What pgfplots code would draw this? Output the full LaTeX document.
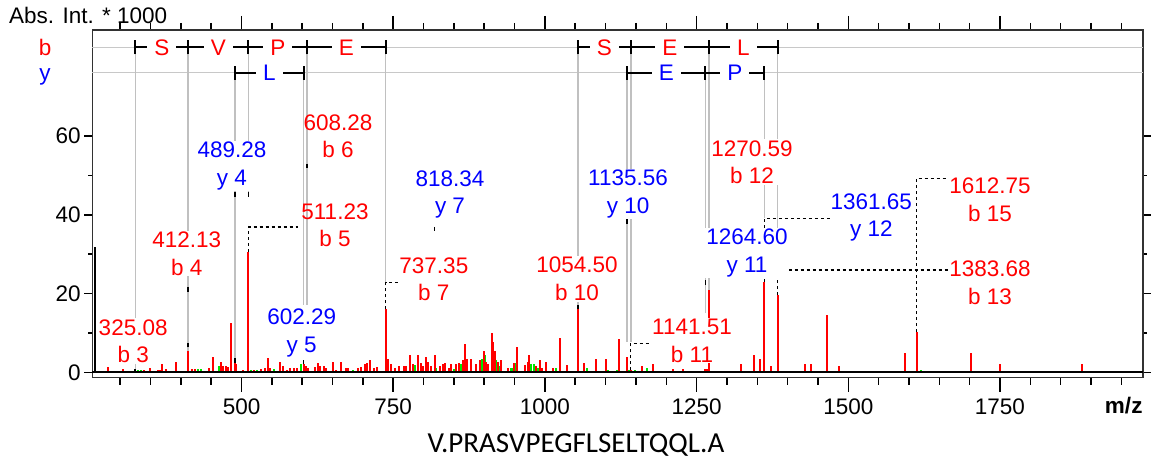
\documentclass[border=0pt]{standalone}
\usepackage{pgfplots}
\pgfplotsset{compat=1.18}
\usepackage{fontspec}
\setmainfont{Liberation Sans}
\newfontfamily\carlito{Carlito}
\definecolor{pkred}{RGB}{255,0,0}
\definecolor{pkgreen}{RGB}{0,230,0}
\definecolor{pkblue}{RGB}{0,0,255}
\definecolor{conn}{RGB}{192,192,192}
\definecolor{rowgray}{RGB}{200,200,200}
\definecolor{frame}{RGB}{50,50,50}
\newcommand{\lab}{\fontsize{22.5}{27.5}\selectfont}
\begin{document}
\begin{tikzpicture}
\useasboundingbox (-92.5pt,-83.5pt) rectangle (1058.5pt,377.5pt);
\begin{axis}[
  at={(0,0)}, anchor=south west,
  scale only axis, width=1050.2pt, height=347.5pt,
  xmin=254.4, xmax=1985.2, ymin=-1.32, ymax=86.92,
  clip=false,
  xtick={500,750,1000,1250,1500,1750},
  minor xtick={300,350,...,1950},
  ytick={0,20,40,60}, minor ytick={10,30,50},
  tick align=outside,
  xtick style={black, line width=1.5pt, /pgfplots/major tick length=14pt, /pgfplots/minor tick length=7pt},
  ytick style={black, line width=1.5pt, /pgfplots/major tick length=8pt, /pgfplots/minor tick length=4pt},
  axis line style={draw=frame, line width=1.8pt},
  tick label style={font=\lab},
  xticklabel style={yshift=-13pt},
  yticklabel style={xshift=-4pt},
  /pgf/number format/.cd, set thousands separator={}, assume math mode=true,
]
% ladder rows
\draw[rowgray, line width=1.5pt] (axis cs:254.4,82.53) -- (axis cs:1985.2,82.53);
\draw[rowgray, line width=1.5pt] (axis cs:254.4,76.08) -- (axis cs:1985.2,76.08);
% connectors
\draw[conn, line width=1.5pt] (axis cs:325.08,82.53) -- (axis cs:325.08,0.8);
\draw[conn, line width=1.5pt] (axis cs:412.13,82.53) -- (axis cs:412.13,5.3);
\draw[conn, line width=1.5pt] (axis cs:489.28,76.08) -- (axis cs:489.28,3);
\draw[conn, line width=1.5pt] (axis cs:511.23,82.53) -- (axis cs:511.23,44.5);
\draw[conn, line width=1.5pt] (axis cs:602.29,76.08) -- (axis cs:602.29,17.1);
\draw[conn, line width=1.5pt] (axis cs:608.28,82.53) -- (axis cs:608.28,17.1);
\draw[conn, line width=1.5pt] (axis cs:737.35,82.53) -- (axis cs:737.35,22.8);
\draw[conn, line width=1.5pt] (axis cs:1054.5,82.53) -- (axis cs:1054.5,16);
\draw[conn, line width=1.5pt] (axis cs:1135.56,76.08) -- (axis cs:1135.56,7.7);
\draw[conn, line width=1.5pt] (axis cs:1141.51,82.53) -- (axis cs:1141.51,7.7);
\draw[conn, line width=1.5pt] (axis cs:1264.60,76.08) -- (axis cs:1264.60,15);
\draw[conn, line width=1.5pt] (axis cs:1270.59,82.53) -- (axis cs:1270.59,21);
\draw[conn, line width=1.5pt] (axis cs:1361.65,76.08) -- (axis cs:1361.65,39.1);
\draw[conn, line width=1.5pt] (axis cs:1383.68,82.53) -- (axis cs:1383.68,26);
% peaks
\addplot[ycomb, no marks, pkgreen, line width=2pt] coordinates {
(329,0.5) (334.6,0.6) (429,0.8) (433.5,0.8) (463.7,1.5) (515.5,0.7) (526,0.6)
(553,0.8) (598.6,2.1) (682.9,0.6) (737.7,0.8) (786.6,1.8) (821.2,1.2) (850.3,0.8)
(861.3,2.2) (897,3.3) (901.8,4.5) (920,3.0) (925.5,1.5) (944.8,1.2) (946.5,1.2)
(950.2,2.3) (977.7,2.0) (981.5,2.0) (988.6,1.0) (1019,1.0) (1069.5,1.2) (1104.6,0.6)
(1118.8,0.6) (1138.6,0.5) (1148,0.5) (1169,1.0) (1619,0.5)
};
\addplot[ycomb, no marks, pkred, line width=2pt] coordinates {
(279.7,1.4) (304.4,0.8) (340,0.6) (348.4,1.2) (362,0.5) (365,0.7) (368.7,3)
(375.8,0.8) (392,2.7) (412.13,5.3) (418.6,0.8) (423.6,0.8) (447.2,1.2) (452.7,3.8)
(466.4,2.5) (470,1.6) (473.6,1.6) (477.5,1.4) (481.9,12.6) (489.28,3.0) (491.2,2.1)
(502.7,0.5) (511.23,30.6) (520.6,0.6) (531.9,0.9) (538.5,1.2) (543,3.6) (546.8,1.2)
(564,2.5) (567.7,1.5) (574.9,0.7) (580.4,1.0) (585.9,1.0) (591.4,1.2) (602.29,2.0)
(606,1.5) (610,1.2) (620.7,1.3) (626,2.4) (630,1.5) (635.6,1.7) (640,1.2) (651,2.5)
(656.5,0.5) (664.7,2.5) (673,1.0) (675.7,1.2) (692,1.2) (697.7,1.3) (703,2.0)
(707.6,2.4) (711.4,3.0) (718,1.0) (723.4,1.3) (737.35,16) (741.5,3.5) (747,2.0)
(752.5,1.2) (759.6,1.5) (767.3,1.5) (771.8,1.5) (777.2,4.5) (782.7,2.0) (790.9,4.5)
(795.4,2.4) (799.2,1.5) (804.8,4.0) (808,2.7) (811.8,1.5) (818.34,4.5) (826.6,1.5)
(832,2.0) (836,2.4) (841.5,1.0) (846,2.0) (854.2,2.0) (858.5,2.3) (865,3.0) (869,7.3)
(872.4,3.5) (879,3.4) (887.1,2.0) (892.6,3.0) (899.5,5.4) (903.6,2.5) (906.3,2.0)
(912.3,10) (914.5,7.8) (917.3,5.3) (922.7,2.6) (928.3,3.0) (939,1.2) (948.6,2.3)
(954,6.4) (966.7,1.8) (972,2.5) (973.8,4.3) (984.8,1.5) (992.6,3.1) (995.2,1.2)
(1002.5,2.5) (1013.4,1.0) (1024.4,8.6) (1036.5,1.8) (1054.5,16) (1064,2.4)
(1083.8,3.5) (1100.3,3.5) (1121.6,8.4) (1135.56,3.8) (1141.51,0.5) (1160,1.5)
(1178.2,2.0) (1211,0.8) (1227.6,0.8) (1263.9,0.8) (1267,0.8) (1270.59,21)
(1323.7,2.0) (1344,4.5) (1354,3.4) (1361.65,23) (1372,1.5) (1383.68,19.6)
(1429,2.0) (1439,2.0) (1465.4,14.6) (1484.5,1.6) (1593,4.8) (1612.75,10.2)
(1702.6,4.8) (1749.7,2.0) (1885.5,2.0)
};
\addplot[ycomb, no marks, black, line width=2pt] coordinates {(258,31.9) (325.08,0.8)};
% baseline
\draw[black, line width=2pt] (axis cs:254.4,0) -- (axis cs:1985.2,0);
% dashed leaders
\draw[black, line width=1.3pt, dash pattern=on 3pt off 3pt] (axis cs:511.23,30.6) -- (axis cs:511.23,36.9) -- (axis cs:593,36.9);
\draw[black, line width=1.3pt, dash pattern=on 3pt off 3pt] (axis cs:737.35,16) -- (axis cs:737.35,22.8) -- (axis cs:766,22.8);
\draw[black, line width=1.3pt, dash pattern=on 3pt off 3pt] (axis cs:1141.51,0.5) -- (axis cs:1141.51,7.4) -- (axis cs:1178,7.4);
\draw[black, line width=1.3pt, dash pattern=on 3pt off 3pt] (axis cs:1361.65,23) -- (axis cs:1361.65,39.1) -- (axis cs:1470,39.1);
\draw[black, line width=1.3pt, dash pattern=on 3pt off 3pt] (axis cs:1383.68,19.6) -- (axis cs:1383.68,26) -- (axis cs:1668,26);
\draw[black, line width=1.3pt, dash pattern=on 3pt off 3pt] (axis cs:1612.75,10.2) -- (axis cs:1612.75,49.3) -- (axis cs:1695,49.3);
% short black marks
\draw[black, line width=1.5pt] (axis cs:412.13,6.3) -- (axis cs:412.13,7.4);
\draw[black, line width=1.5pt] (axis cs:412.13,21.7) -- (axis cs:412.13,20.4);
\draw[black, line width=1.5pt] (axis cs:489.28,45.8) -- (axis cs:489.28,44.5);
\draw[black, line width=1.5pt] (axis cs:489.28,2.4) -- (axis cs:489.28,3.7);
\draw[black, line width=1.5pt] (axis cs:511.23,45.8) -- (axis cs:511.23,44.5);
\draw[black, line width=1.5pt] (axis cs:608.28,53) -- (axis cs:608.28,51.8);
\draw[black, line width=1.5pt] (axis cs:602.29,2) -- (axis cs:602.29,3.2);
\draw[black, line width=1.5pt] (axis cs:818.34,36.9) -- (axis cs:818.34,35.9);
\draw[black, line width=1.5pt] (axis cs:1054.5,16) -- (axis cs:1054.5,17.1);
\draw[black, line width=1.5pt] (axis cs:1135.56,38.9) -- (axis cs:1135.56,37.7);
\draw[black, line width=1.5pt] (axis cs:1264.60,23.4) -- (axis cs:1264.60,22.1);
% ladders
\foreach \m in {325.08,412.13,511.23,608.28,737.35,1054.5,1141.51,1270.59,1383.68}{
  \edef\temp{\noexpand\draw[black, line width=2pt] (axis cs:\m,80.75) -- (axis cs:\m,84.31);}\temp
}
\foreach \m in {489.28,602.29,1135.56,1264.60,1361.65}{
  \edef\temp{\noexpand\draw[black, line width=2pt] (axis cs:\m,74.3) -- (axis cs:\m,77.86);}\temp
}
\draw[black, line width=2pt] (axis cs:325.08,82.53) -- (axis cs:737.35,82.53);
\draw[black, line width=2pt] (axis cs:1054.5,82.53) -- (axis cs:1383.68,82.53);
\draw[black, line width=2pt] (axis cs:489.28,76.08) -- (axis cs:602.29,76.08);
\draw[black, line width=2pt] (axis cs:1135.56,76.08) -- (axis cs:1361.65,76.08);
\tikzset{lad/.style={fill=white, inner xsep=7pt, inner ysep=0.5pt, font=\lab}}
\node[lad, text=pkred] at (axis cs:368.605,82.53) {S};
\node[lad, text=pkred] at (axis cs:461.68,82.53) {V};
\node[lad, text=pkred] at (axis cs:559.755,82.53) {P};
\node[lad, text=pkred] at (axis cs:672.815,82.53) {E};
\node[lad, text=pkred] at (axis cs:1098.005,82.53) {S};
\node[lad, text=pkred] at (axis cs:1206.05,82.53) {E};
\node[lad, text=pkred] at (axis cs:1327.135,82.53) {L};
\node[lad, text=pkblue] at (axis cs:545.785,76.08) {L};
\node[lad, text=pkblue] at (axis cs:1200.08,76.08) {E};
\node[lad, text=pkblue] at (axis cs:1313.125,76.08) {P};
% labels
\tikzset{lb/.style={align=center, font=\lab, inner sep=1pt, fill=white},
         lbn/.style={align=center, font=\lab, inner sep=1pt}}
\node[lb, text=pkred] at (axis cs:321.4,7.9) {325.08\\b 3};
\node[lb, text=pkred] at (axis cs:409.7,30.1) {412.13\\b 4};
\node[lb, text=pkblue] at (axis cs:484.3,52.4) {489.28\\y 4};
\node[lbn, text=pkred] at (axis cs:659,59.9) {608.28\\b 6};
\node[lbn, text=pkred] at (axis cs:654,37.4) {511.23\\b 5};
\node[lb, text=pkblue] at (axis cs:599.2,10) {602.29\\y 5};
\node[lb, text=pkred] at (axis cs:817,23.6) {737.35\\b 7};
\node[lb, text=pkblue] at (axis cs:843.6,45.2) {818.34\\y 7};
\node[lb, text=pkred] at (axis cs:1052.9,23.7) {1054.50\\b 10};
\node[lb, text=pkblue] at (axis cs:1137,45.3) {1135.56\\y 10};
\node[lb, text=pkred] at (axis cs:1242.4,8) {1141.51\\b 11};
\node[lb, text=pkred] at (axis cs:1341.3,53.4) {1270.59\\b 12};
\node[lb, text=pkblue] at (axis cs:1333,30.3) {1264.60\\y 11};
\node[lb, text=pkblue] at (axis cs:1538,39.3) {1361.65\\y 12};
\node[lb, text=pkred] at (axis cs:1733.5,43.8) {1612.75\\b 15};
\node[lb, text=pkred] at (axis cs:1733.5,22.8) {1383.68\\b 13};
% outer texts
\node[anchor=base west, font=\lab, inner sep=0pt] at (rel axis cs:-0.0795,1.0201) {Abs. Int. * 1000};
\node[anchor=base, font=\lab, inner sep=0pt, text=pkred] at (rel axis cs:-0.0452,0.928) {b};
\node[anchor=base, font=\lab, inner sep=0pt, text=pkblue] at (rel axis cs:-0.0452,0.856) {y};
\node[anchor=base east, font=\lab\bfseries, inner sep=0pt] at (rel axis cs:1,-0.105) {m/z};
\node[anchor=base, font=\carlito\fontsize{29}{34}\selectfont, inner sep=0pt] at (rel axis cs:0.4604,-0.2144) {V.PRASVPEGFLSELTQQL.A};
\end{axis}
\end{tikzpicture}
\end{document}
